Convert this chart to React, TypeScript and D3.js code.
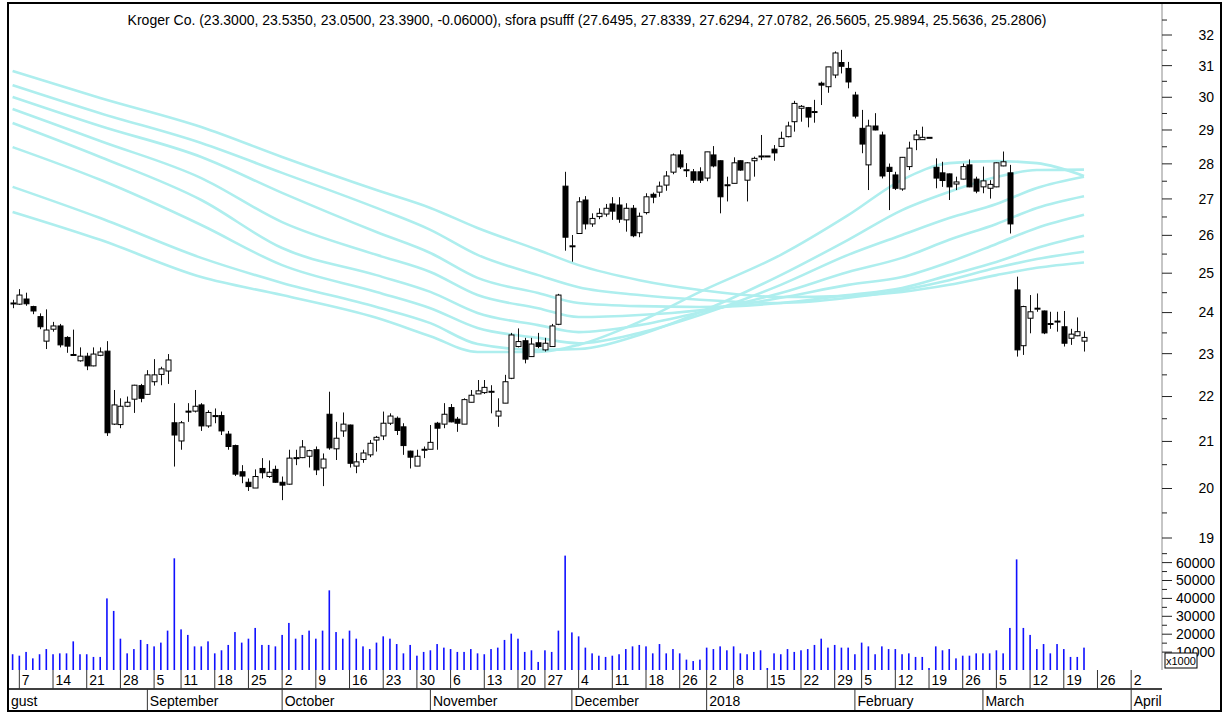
import React from 'react';
import * as d3 from 'd3';

const W = 1224;
const H = 713;

// ---- Daily OHLC (Aug 4 2017 .. Mar 22 2018, trading slots) ----
const opens = [
  24.23, 24.21, 24.34, 24.15, 23.90, 23.30, 23.59, 23.67, 23.39, 22.98,
  22.83, 22.94, 22.71, 22.96, 23.06, 21.38, 21.37, 21.78, 21.94, 22.25,
  22.05, 22.34, 22.51, 22.59, 21.41, 21.01, 21.67, 21.67, 21.81, 21.34,
  21.57, 21.57, 21.16, 20.91, 20.35, 20.13, 20.01, 20.42, 20.25, 20.40,
  20.13, 20.09, 20.64, 20.65, 20.68, 20.82, 20.43, 21.60, 20.84, 21.23,
  21.36, 20.47, 20.61, 20.71, 21.03, 21.12, 21.40, 21.51, 21.32, 20.79,
  20.47, 20.82, 20.83, 21.40, 21.38, 21.75, 21.49, 21.38, 21.87, 22.06,
  22.09, 22.11, 21.56, 21.85, 22.42, 23.17, 23.31, 22.93, 23.26, 23.09,
  23.17, 23.71, 27.36, 25.70, 26.05, 26.97, 26.31, 26.51, 26.58, 26.86,
  26.83, 26.42, 26.74, 26.07, 26.62, 27.13, 27.19, 27.39, 27.76, 28.26,
  27.82, 27.77, 27.77, 27.59, 28.26, 28.09, 27.39, 27.44, 28.09, 27.53,
  28.09, 28.23, 28.23, 28.43, 28.51, 28.80, 29.25, 29.66, 29.68, 29.55,
  30.44, 30.33, 30.70, 31.10, 30.91, 30.07, 29.05, 27.97, 29.12, 28.85,
  27.90, 27.68, 27.28, 27.92, 28.71, 28.71, 28.78, 27.90, 27.74, 27.71,
  27.42, 27.56, 27.97, 27.56, 27.34, 27.30, 27.34, 27.94, 27.74, 24.57,
  23.19, 23.86, 24.10, 24.04, 23.72, 23.78, 23.65, 23.37, 23.43, 23.30,
];
const highs = [
  24.32, 24.59, 24.50, 24.17, 23.98, 24.08, 23.77, 23.72, 23.42, 23.58,
  23.15, 23.02, 23.15, 23.15, 23.30, 22.15, 21.96, 22.00, 22.27, 22.29,
  22.61, 22.87, 22.69, 22.99, 21.85, 21.45, 21.85, 22.15, 21.85, 21.69,
  21.73, 21.66, 21.23, 20.93, 20.49, 20.21, 20.40, 20.64, 20.59, 20.48,
  20.25, 20.82, 20.82, 21.03, 20.82, 20.89, 20.74, 22.11, 21.43, 21.64,
  21.37, 20.75, 20.82, 21.03, 21.12, 21.66, 21.62, 21.55, 21.40, 20.80,
  20.82, 20.89, 21.36, 21.43, 21.85, 21.83, 21.54, 21.96, 22.15, 22.38,
  22.38, 22.26, 21.96, 22.50, 23.50, 23.61, 23.38, 23.38, 23.50, 23.38,
  23.72, 24.47, 27.77, 26.01, 27.05, 27.08, 26.60, 26.74, 26.86, 27.05,
  27.05, 26.88, 26.83, 26.62, 27.16, 27.18, 27.49, 27.79, 28.30, 28.40,
  28.02, 27.85, 27.90, 28.35, 28.52, 28.10, 27.63, 28.19, 28.10, 28.05,
  28.21, 28.85, 28.23, 28.55, 28.95, 29.25, 29.89, 29.76, 29.70, 29.92,
  30.49, 30.96, 31.46, 31.51, 31.12, 30.17, 29.61, 29.31, 29.51, 28.95,
  28.01, 27.77, 28.20, 28.65, 29.00, 29.10, 28.78, 28.16, 28.06, 27.72,
  27.63, 28.01, 28.13, 27.63, 27.92, 27.53, 28.04, 28.36, 27.97, 24.91,
  24.17, 24.44, 24.48, 24.05, 24.02, 24.02, 24.04, 23.60, 23.88, 23.535,
];
const lows = [
  24.11, 24.19, 24.17, 23.96, 23.59, 23.11, 23.53, 23.15, 23.02, 22.95,
  22.81, 22.61, 22.70, 22.94, 21.12, 21.36, 21.29, 21.76, 21.63, 21.87,
  22.04, 22.25, 22.26, 22.29, 20.46, 20.82, 21.43, 21.64, 21.23, 21.30,
  21.40, 21.14, 20.82, 20.26, 20.11, 19.95, 20.01, 20.21, 20.22, 20.12,
  19.76, 20.08, 20.49, 20.64, 20.44, 20.28, 20.05, 20.82, 20.60, 21.10,
  20.44, 20.32, 20.54, 20.66, 20.78, 21.03, 21.36, 21.14, 20.71, 20.42,
  20.47, 20.64, 20.83, 20.82, 21.29, 21.42, 21.21, 21.38, 21.87, 22.06,
  22.06, 21.62, 21.32, 21.85, 22.40, 23.15, 22.77, 22.92, 23.13, 23.05,
  23.17, 23.69, 25.59, 25.30, 26.05, 26.16, 26.23, 26.44, 26.51, 26.42,
  26.34, 26.10, 25.95, 25.95, 26.57, 26.88, 27.06, 27.23, 27.70, 27.85,
  27.62, 27.45, 27.45, 27.50, 27.90, 26.60, 26.93, 27.44, 27.80, 26.93,
  27.63, 28.11, 28.23, 28.09, 28.49, 28.78, 28.95, 29.25, 29.08, 29.22,
  29.76, 30.14, 30.60, 30.75, 30.28, 29.35, 28.31, 27.25, 28.99, 27.58,
  26.69, 27.25, 27.23, 27.82, 28.40, 28.70, 28.78, 27.30, 27.34, 26.97,
  27.25, 27.55, 27.33, 27.16, 27.16, 27.01, 27.33, 27.93, 26.05, 22.93,
  22.97, 23.49, 24.02, 23.47, 23.60, 23.53, 23.17, 23.21, 23.42, 23.05,
];
const closes = [
  24.24, 24.44, 24.22, 24.04, 23.65, 23.57, 23.67, 23.21, 23.18, 22.97,
  22.94, 22.71, 22.99, 23.04, 21.19, 21.81, 21.78, 21.87, 22.26, 21.96,
  22.50, 22.50, 22.64, 22.85, 21.14, 21.41, 21.66, 21.78, 21.34, 21.64,
  21.56, 21.23, 20.89, 20.30, 20.26, 20.04, 20.25, 20.33, 20.34, 20.13,
  20.07, 20.64, 20.65, 20.88, 20.80, 20.39, 20.62, 20.86, 21.07, 21.38,
  20.53, 20.56, 20.75, 20.96, 21.09, 21.40, 21.56, 21.24, 20.91, 20.66,
  20.68, 20.83, 20.98, 21.29, 21.60, 21.43, 21.40, 21.93, 22.03, 22.13,
  22.21, 22.12, 21.67, 22.34, 23.45, 23.29, 22.87, 23.23, 23.17, 23.25,
  23.67, 24.44, 25.95, 25.72, 26.92, 26.31, 26.46, 26.60, 26.74, 26.66,
  26.44, 26.74, 25.99, 26.52, 27.06, 27.05, 27.36, 27.65, 28.26, 27.91,
  27.83, 27.53, 27.53, 28.35, 27.94, 27.06, 27.40, 28.03, 27.82, 28.03,
  28.16, 28.23, 28.23, 28.32, 28.75, 29.12, 29.81, 29.72, 29.39, 29.56,
  30.38, 30.96, 31.41, 30.98, 30.48, 29.42, 28.58, 29.12, 29.00, 27.65,
  27.78, 27.30, 28.19, 28.46, 28.85, 28.78, 28.78, 27.59, 27.52, 27.34,
  27.48, 27.92, 27.34, 27.22, 27.51, 27.41, 28.03, 28.06, 26.31, 23.09,
  24.15, 24.02, 24.11, 23.50, 23.73, 23.79, 23.25, 23.47, 23.53, 23.39,
];
// volume, in thousands of shares
const volumes = [
  8800, 8000, 10100, 6500, 8800, 11700, 8800, 9300, 9300, 16000,
  8800, 8800, 7300, 7300, 40000, 33000, 17500, 9300, 11700, 16800,
  14500, 13200, 15300, 22000, 62400, 22700, 19600, 13200, 13200, 16000,
  9300, 11000, 14000, 21200, 15300, 17500, 23500, 14000, 14000, 13200,
  19600, 26300, 17500, 19600, 22000, 17500, 22000, 44500, 21200, 17500,
  22000, 17500, 13200, 11700, 15300, 18800, 17500, 14500, 9300, 14000,
  8000, 10100, 11000, 14500, 12500, 11700, 10100, 10100, 11700, 9300,
  8800, 11700, 12500, 16800, 20300, 17500, 10100, 11000, 4500, 11000,
  10100, 22000, 63900, 21000, 18800, 12500, 9300, 8000, 7300, 8000,
  8800, 11700, 13200, 14000, 13200, 9300, 14500, 9300, 11700, 9300,
  5800, 5000, 5800, 12500, 11700, 13200, 11000, 13200, 9300, 8800,
  10100, 11000, 1100, 9300, 8800, 11700, 10100, 11000, 11700, 14000,
  17500, 12500, 14000, 12500, 12500, 8800, 15300, 13200, 8800, 13200,
  11700, 11700, 8800, 9300, 7300, 7300, 1100, 13200, 11000, 11700,
  6500, 8000, 8000, 9300, 9300, 9300, 11000, 9300, 23500, 61800,
  23500, 19600, 11700, 14500, 9300, 14500, 11700, 7300, 7300, 12500,
];

// ---- eight moving-average ribbons (sfora psufff), sampled at slot indices ----
const maIdx = [0, 13, 28, 40, 54, 62, 69, 78, 84, 93, 102, 114, 124, 132, 139, 146, 152, 159];
const ma8 = [30.83, 29.98, 29.09, 28.20, 27.25, 26.75, 26.20, 25.61, 25.21, 24.82, 24.57, 24.39, 24.42, 24.52, 24.70, 24.95, 25.14, 25.2806];
const ma7 = [30.38, 29.51, 28.61, 27.74, 26.75, 26.15, 25.48, 24.95, 24.64, 24.44, 24.32, 24.24, 24.37, 24.57, 24.82, 25.14, 25.37, 25.5636];
const ma6 = [30.01, 29.12, 28.20, 27.17, 26.09, 25.53, 24.88, 24.49, 24.24, 24.16, 24.14, 24.24, 24.44, 24.62, 24.95, 25.29, 25.66, 25.9894];
const ma5 = [29.64, 28.67, 27.59, 26.36, 25.48, 25.03, 24.44, 24.11, 23.89, 23.94, 24.06, 24.37, 24.70, 24.90, 25.29, 25.77, 26.20, 26.5605];
const ma4 = [29.21, 28.20, 26.97, 25.66, 24.95, 24.52, 23.99, 23.69, 23.52, 23.69, 24.01, 24.49, 25.03, 25.40, 25.88, 26.31, 26.75, 27.0782];
const ma3 = [28.49, 27.54, 26.28, 25.21, 24.52, 24.11, 23.62, 23.38, 23.25, 23.50, 23.94, 24.70, 25.48, 26.01, 26.47, 26.86, 27.31, 27.6294];
const ma2 = [27.34, 26.47, 25.40, 24.75, 24.14, 23.74, 23.23, 23.09, 23.11, 23.45, 24.01, 24.95, 25.88, 26.69, 27.20, 27.62, 27.82, 27.8339];
const ma1 = [26.64, 25.88, 24.90, 24.44, 23.87, 23.42, 23.04, 23.04, 23.21, 23.77, 24.52, 25.48, 26.55, 27.54, 28.02, 28.08, 28.02, 27.6495];
const maSeries = [ma1, ma2, ma3, ma4, ma5, ma6, ma7, ma8];

// ---- axes ----
const priceTicks = [19, 20, 21, 22, 23, 24, 25, 26, 27, 28, 29, 30, 31, 32];
const priceMinor = [19.5, 20.5, 21.5, 22.5, 23.5, 24.5, 25.5, 26.5, 27.5, 28.5, 29.5, 30.5, 31.5, 32.5];
const volTicks = [10000, 20000, 30000, 40000, 50000, 60000];
const volMinor = [15000, 25000, 35000, 45000, 55000, 65000];
const dayTickIdx = [1, 6, 11, 16, 21, 25, 30, 35, 40, 45, 50, 55, 60, 65, 70, 75, 79, 84, 89, 94, 99, 103, 107, 112, 117, 122, 126, 131, 136, 141, 146, 151, 156, 161, 166];
const dayTickLabels = ['7', '14', '21', '28', '5', '11', '18', '25', '2', '9', '16', '23', '30', '6', '13', '20', '27', '4', '11', '18', '26', '2', '8', '15', '22', '29', '5', '12', '19', '26', '5', '12', '19', '26', '2'];
// first month (August) begins before the first slot: only its tail "gust" is visible
const monthIdx = [20, 40, 62, 83, 103, 125, 144, 166];
const monthLabels = ['September', 'October', 'November', 'December', '2018', 'February', 'March', 'April'];
const firstMonthTail = 'gust';

const TITLE = 'Kroger Co. (23.3000, 23.5350, 23.0500, 23.3900, -0.06000), sfora psufff (27.6495, 27.8339, 27.6294, 27.0782, 26.5605, 25.9894, 25.5636, 25.2806)';

const FONT = "'Liberation Sans', Arial, Helvetica, sans-serif";

export default function App() {
  // layout
  const plotL = 9;
  const plotR = 1162;
  const plotT = 4;
  const volBase = 670;
  const axisY = 689;
  const frameB = 711;

  const x = d3.scaleLinear().domain([0, 159]).range([12.6, 1084]);
  const y = d3.scaleLog().domain([19, 32]).range([538, 35]);
  const yv = d3.scaleLinear().domain([0, 60000]).range([volBase, 562.6]);

  const line = d3
    .line<number>()
    .x((_, i) => x(maIdx[i]))
    .y((d) => y(d))
    .curve(d3.curveMonotoneX);

  const bodyW = 5;

  return (
    <svg
      width={W}
      height={H}
      viewBox={`0 0 ${W} ${H}`}
      style={{ position: 'absolute', left: 0, top: 0, background: '#fff', fontFamily: FONT }}
    >
      <defs>
        <clipPath id="plotClip">
          <rect x={plotL} y={plotT} width={plotR - plotL} height={volBase - plotT} />
        </clipPath>
        <clipPath id="axisClip">
          <rect x={plotL} y={volBase} width={plotR - plotL} height={frameB - volBase} />
        </clipPath>
      </defs>
      <rect x={0} y={0} width={W} height={H} fill="#fff" />

      {/* title */}
      <text x={587} y={25} textAnchor="middle" fontSize={14} fill="#000">
        {TITLE}
      </text>

      <g clipPath="url(#plotClip)">
        {/* moving average ribbon */}
        {maSeries.map((s, k) => (
          <path key={k} d={line(s) || ''} fill="none" stroke="#aeeeee" strokeWidth={2.6} />
        ))}

        {/* volume */}
        {volumes.map((v, i) => (
          <rect
            key={'v' + i}
            x={x(i) - 0.8}
            y={yv(v)}
            width={1.6}
            height={volBase - yv(v)}
            fill="#1010ff"
          />
        ))}

        {/* candles */}
        {opens.map((o, i) => {
          const c = closes[i];
          const up = c >= o;
          const top = y(Math.max(o, c));
          const bot = y(Math.min(o, c));
          const cx = Math.round(x(i)) + 0.5;
          return (
            <g key={'c' + i}>
              <line x1={cx} x2={cx} y1={y(highs[i])} y2={y(lows[i])} stroke="#111" strokeWidth={1} />
              <rect
                x={cx - bodyW / 2}
                y={top}
                width={bodyW}
                height={Math.max(bot - top, 1)}
                fill={up ? '#fff' : '#000'}
                stroke="#000"
                strokeWidth={1}
              />
            </g>
          );
        })}
      </g>

      {/* right axis */}
      <line x1={plotR} x2={plotR} y1={plotT} y2={volBase} stroke="#8c8c8c" strokeWidth={1} />
      {priceTicks.map((t) => (
        <g key={'pt' + t}>
          <line x1={plotR} x2={plotR + 10} y1={y(t)} y2={y(t)} stroke="#222" strokeWidth={1} />
          <text x={1214} y={y(t)} dy="0.35em" textAnchor="end" fontSize={14} fill="#000">
            {t}
          </text>
        </g>
      ))}
      {priceMinor.map((t) => (
        <line key={'pm' + t} x1={plotR} x2={plotR + 5} y1={y(t)} y2={y(t)} stroke="#222" strokeWidth={1} />
      ))}
      {volTicks.map((t) => (
        <g key={'vt' + t}>
          <line x1={plotR} x2={plotR + 10} y1={yv(t)} y2={yv(t)} stroke="#222" strokeWidth={1} />
          <text x={1215} y={yv(t)} dy="0.35em" textAnchor="end" fontSize={14} fill="#000">
            {t}
          </text>
        </g>
      ))}
      {volMinor.map((t) => (
        <line key={'vm' + t} x1={plotR} x2={plotR + 5} y1={yv(t)} y2={yv(t)} stroke="#222" strokeWidth={1} />
      ))}
      <rect x={1165} y={653} width={32} height={15} fill="#fff" stroke="#000" strokeWidth={1} />
      <text x={1181} y={664.5} textAnchor="middle" fontSize={11} fill="#000">
        x1000
      </text>

      {/* date axis */}
      <g clipPath="url(#axisClip)">
        <line x1={plotL} x2={plotR} y1={axisY} y2={axisY} stroke="#000" strokeWidth={1.5} />
        {dayTickIdx.map((d, k) => (
          <g key={'dt' + k}>
            <line x1={x(d)} x2={x(d)} y1={volBase} y2={axisY} stroke="#333" strokeWidth={1} />
            <text x={x(d) + 2.5} y={685} fontSize={14} fill="#000">
              {dayTickLabels[k]}
            </text>
          </g>
        ))}
        <text x={11} y={706} fontSize={14} fill="#000">
          {firstMonthTail}
        </text>
        {monthIdx.map((d, k) => (
          <g key={'mt' + k}>
            <line x1={x(d)} x2={x(d)} y1={axisY} y2={frameB} stroke="#333" strokeWidth={1} />
            <text x={x(d) + 2.5} y={706} fontSize={14} fill="#000">
              {monthLabels[k]}
            </text>
          </g>
        ))}
      </g>

      {/* frame */}
      <rect x={8} y={3} width={1213} height={708} fill="none" stroke="#000" strokeWidth={2} />
    </svg>
  );
}
